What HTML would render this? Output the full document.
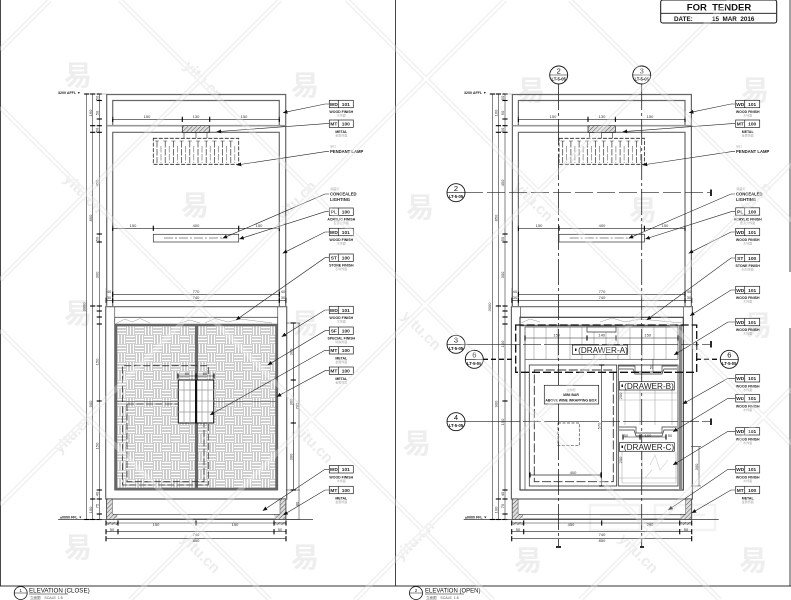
<!DOCTYPE html>
<html><head><meta charset="utf-8"><style>
html,body{margin:0;padding:0;background:#fff;width:791px;height:600px;overflow:hidden}
svg{display:block;overflow:hidden}
text{font-family:"Liberation Sans","Noto Sans CJK SC",sans-serif;fill:#111}
.t{font-size:4.8px;font-weight:bold;text-anchor:middle;fill:#222}
.c{font-size:3.5px;font-weight:bold;text-anchor:middle;fill:#222}
.s{font-size:3px;text-anchor:middle;fill:#aaa}
.l{font-size:4.2px;font-weight:bold;fill:#222}
.lv{font-size:3.6px;font-weight:bold;fill:#222}
.d{font-size:4px;text-anchor:middle;fill:#333}
.wm{font-size:28px;font-weight:bold;fill:#eee;text-anchor:middle}
.wt{font-size:15px;font-weight:bold;fill:#ececec;text-anchor:middle}
.dr{font-size:8.2px;text-anchor:middle;fill:#222}
</style></head><body>
<svg width="791" height="600" viewBox="0 0 791 600" xmlns="http://www.w3.org/2000/svg">
<defs>
<path id="wl" fill="none" d="M0 50L50 0M0 280L280 0M0 505L505 0M130 600L730 0M355 600L791 164M580 600L791 389M0 330L270 600M0 107L493 600M120 0L720 600M347 0L791 444M570 0L791 221"/>
<pattern id="weave" width="18" height="18" patternUnits="userSpaceOnUse" x="117" y="326">
<rect width="18" height="18" fill="#b2b2b2"/>
<path d="M0 1.5H9M0 4.500H9M0 7.500H9M9 10.500H18M9 13.500H18M9 16.500H18M10.500 0V9M13.500 0V9M16.500 0V9M1.500 9V18M4.500 9V18M7.500 9V18" stroke="#fff" stroke-width="1.700"/>
</pattern>
<pattern id="hat" width="3" height="3" patternUnits="userSpaceOnUse" patternTransform="rotate(45)">
<rect width="3" height="3" fill="#ddd"/><path d="M0 0V3" stroke="#555" stroke-width="1"/>
</pattern>
<pattern id="vl" width="12" height="10" patternUnits="userSpaceOnUse"><path d="M6 0V10" stroke="#aaa" stroke-width=".7"/></pattern>
<marker id="a" markerUnits="userSpaceOnUse" markerWidth="6" markerHeight="6" refX="4.500" refY="3" orient="auto"><path d="M0 1L4.500 3L0 5Z" fill="#111"/></marker>
<marker id="k" markerUnits="userSpaceOnUse" markerWidth="6" markerHeight="6" refX="3" refY="3" orient="auto"><path d="M3 .4V5.600" stroke="#000" stroke-width="1.100"/></marker>

<g id="tb"><rect x="0" y="-3.700" width="24" height="7.400" fill="#fff" stroke="#222" stroke-width=".7"/><path d="M9-3.700V3.700" stroke="#222" stroke-width=".7"/></g>

<g id="shell" fill="none">
<g stroke="#666" stroke-width="1.200">
<path d="M106.700 306V94.500H285.700V306"/>
<path d="M112.700 125V100.500H279.300V125"/>
<path d="M107 125.700H182M210 125.700H285.700" stroke="#999" stroke-width="1.600"/>
<path d="M112.700 306V132.300H279.300V306"/>
<path d="M105.700 306.700H286.700V499H105.700Z"/>
<path d="M106.500 499V519H286V499" stroke-width=".9"/>
<path d="M114.700 306.700V317M277.700 306.700V317" stroke-width=".8"/>
</g>
<rect x="182.300" y="125.700" width="27.400" height="6.600" fill="url(#hat)" stroke="#222" stroke-width=".7"/>
<rect x="153.300" y="138.300" width="85.400" height="26" stroke="#222" stroke-width=".8" stroke-dasharray="4 1.500"/>
<path d="M157 141V163M165.200 141V163M173.400 141V163M181.600 141V163M189.800 141V163M198 141V163M206.200 141V163M214.400 141V163M222.600 141V163M230.800 141V163" stroke="#333" stroke-width=".7" stroke-dasharray="6.500 1.500"/>
<path d="M161 146V163M169.200 146V163M177.400 146V163M185.600 146V163M193.800 146V163M202 146V163M210.200 146V163M218.400 146V163M226.600 146V163M234.800 146V163" stroke="#666" stroke-width=".6" stroke-dasharray="6.500 1.500"/>
<path d="M155 141H236" stroke="#333" stroke-width=".6" stroke-dasharray="4 4.200"/>
<path d="M184 132V138M196 132V138M207 132V138" stroke="#333" stroke-width=".6"/>
<rect x="153.300" y="234.300" width="85.400" height="7.700" fill="#fff" stroke="#333" stroke-width=".7"/>
<path d="M164 238H224" stroke="#222" stroke-width=".6" stroke-dasharray="9 2 2 2"/>
<!-- base -->
<rect x="106.700" y="499" width="5.700" height="20" fill="url(#hat)" stroke="#444" stroke-width=".5"/>
<rect x="280" y="499" width="5.700" height="20" fill="url(#hat)" stroke="#444" stroke-width=".5"/>
<rect x="107.700" y="514.300" width="9.600" height="5" fill="url(#hat)"/>
<rect x="274.500" y="514.300" width="10" height="5" fill="url(#hat)"/>
<rect x="106.500" y="522" width="11" height="3" fill="url(#hat)"/>
<rect x="274.500" y="522" width="11" height="3" fill="url(#hat)"/>
<path d="M113 514.300H280" stroke="#333" stroke-width=".7"/>
<path d="M58 519.500H313" stroke="#333" stroke-width=".8"/>
<!-- dims -->
<g stroke="#222" stroke-width=".55" marker-start="url(#k)" marker-mid="url(#k)" marker-end="url(#k)">
<polyline points="112.700,119.300 182.300,119.300 209.700,119.300 279.300,119.300"/>
<polyline points="112.700,228.300 153.300,228.300 238.700,228.300 279.300,228.300"/>
<polyline points="112.700,294.300 279.300,294.300"/>
<polyline points="106,300.300 112.700,300.300 279.300,300.300 286,300.300"/>
<polyline points="106,523 118,523 196,523 274,523 286,523"/>
<polyline points="106,531.700 118,531.700 274,531.700 286,531.700"/>
<polyline points="106,538.700 286,538.700"/>
<polyline points="99.300,94 99.300,100.500 99.300,119 99.300,125.700 99.300,132.300 99.300,234 99.300,242 99.300,306 99.300,311 99.300,317 99.300,324 99.300,401 99.300,490 99.300,499 99.300,514 99.300,519.500"/>
<polyline points="92.700,94 92.700,125.700 92.700,132.300 92.700,306 92.700,499 92.700,519.500"/>
<polyline points="86.700,94 86.700,519.500"/>
</g>
<path d="M112.700 119V100M279.300 119V100M112.700 228V133M279.300 228V133M99 94H107M99 519.500H107M106 288V306M286 288V306" stroke="#777" stroke-width=".4"/>
</g>
</defs>

<rect width="791" height="600" fill="#fff"/>

<!-- watermark -->
<use href="#wl" stroke="#e9e9e9" stroke-width="5"/>
<use href="#wl" stroke="#fff" stroke-width="2.400"/>
<g>
<text class="wm" x="78" y="85">易</text><text class="wm" x="305" y="95">易</text><text class="wm" x="195" y="215">易</text>
<text class="wm" x="420" y="217">易</text><text class="wm" x="531" y="100">易</text><text class="wm" x="643" y="220">易</text><text class="wm" x="755" y="100">易</text>
<text class="wm" x="78" y="323">易</text><text class="wm" x="305" y="333">易</text><text class="wm" x="758" y="335">易</text>
<text class="wm" x="417" y="453">易</text>
<text class="wm" x="78" y="557">易</text><text class="wm" x="305" y="567">易</text><text class="wm" x="528" y="570">易</text><text class="wm" x="753" y="570">易</text>
<text class="wt" transform="translate(200,84) rotate(45)">yitu.cn</text>
<text class="wt" transform="translate(80,197) rotate(45)">yitu.cn</text>
<text class="wt" transform="translate(300,204) rotate(-45)">yitu.cn</text>
<text class="wt" transform="translate(77,437) rotate(-45)">yitu.cn</text>
<text class="wt" transform="translate(310,447) rotate(45)">yitu.cn</text>
<text class="wt" transform="translate(197,557) rotate(45)">yitu.cn</text>
<text class="wt" transform="translate(418,334) rotate(45)">yitu.cn</text>
<text class="wt" transform="translate(418,544) rotate(-45)">yitu.cn</text>
<text class="wt" transform="translate(635,557) rotate(45)">yitu.cn</text>
<text class="wt" transform="translate(530,205) rotate(45)">yitu.cn</text>
<text class="wt" transform="translate(755,205) rotate(-45)">yitu.cn</text>
</g>
<path d="M590 505H640V530H590ZM655 505H715V530H655ZM600 515H630M665 515H705" fill="none" stroke="#f3f3f3" stroke-width="2.500"/>

<!-- sheet frame -->
<path d="M395.500 0V586M.500 0V586M0 586H791M790 0V272M790 328V586" stroke="#333" stroke-width=".9" fill="none"/>
<rect x="660.700" y="0" width="116" height="23" rx="2" fill="#fff" stroke="#111" stroke-width="1"/>
<path d="M661 13.300H776" stroke="#111" stroke-width=".8"/>
<text x="719" y="10.500" style="font-size:9.500px;font-weight:bold;text-anchor:middle" xml:space="preserve">FOR  TENDER</text>
<text x="674" y="21" style="font-size:6.300px;font-weight:bold">DATE:</text>
<text x="712" y="21" style="font-size:6.300px;font-weight:bold" xml:space="preserve">15  MAR  2016</text>

<!-- LEFT PANEL -->
<use href="#shell"/>
<g fill="none">
<rect x="114.700" y="317.300" width="163" height="172.700" stroke="#444" stroke-width=".8"/>
<path d="M116 323.500L125 319L132 322L140 318.500L150 323M180 323L190 320L200 323M205 323L215 318.500L228 322L240 319L272 323" stroke="#999" stroke-width=".5"/>
<rect x="116" y="325" width="160.500" height="164" fill="url(#weave)" stroke="#666" stroke-width="2.500"/>
<path d="M196.500 325V489" stroke="#666" stroke-width="3"/>
<path d="M117 401.300H178M214 401.300H276" stroke="#444" stroke-width=".7"/>
<path d="M122.500 402V365.700H208.300V376M208.300 424V485H122.500V404M127 404H178M127 404V481.700H204V424" stroke="#333" stroke-width=".8" stroke-dasharray="7 2.500"/>
<rect x="178.300" y="380" width="35.400" height="43" fill="#fff" stroke="#111" stroke-width="1"/>
<path d="M178 390H195M197 390H214M178 401H195M197 401H214M178 412H195M197 412H214M184 380V423M190 380V423M202 380V423M208 380V423" stroke="#999" stroke-width=".7"/>
<rect x="195" y="380" width="2.200" height="43" fill="#111"/>
<path d="M293.300 323V490M299 323V519.500M286 323H300M286 490H300M286 519.500H300" stroke="#333" stroke-width=".55"/>
<g stroke="#222" stroke-width=".55" marker-start="url(#k)" marker-mid="url(#k)" marker-end="url(#k)">
<polyline points="293.300,323 293.300,380 293.300,423 293.300,490"/>
<polyline points="178,376 196,376 214,376"/>
</g>
</g>
<text class="lv" x="58" y="94">3200 AFFL ▼</text>
<text class="lv" x="60" y="518.500">±0000 FFL ▼</text>
<g>
<text class="d" x="147" y="118">150</text><text class="d" x="196" y="118">130</text><text class="d" x="244" y="118">150</text>
<text class="d" x="133" y="227">150</text><text class="d" x="196" y="227">400</text><text class="d" x="259" y="227">150</text>
<text class="d" x="196" y="293">770</text><text class="d" x="196" y="299">740</text>
<text class="d" x="109" y="293">40</text><text class="d" x="283" y="293">40</text><text class="d" x="109" y="299">30</text><text class="d" x="283" y="299">30</text>
<text class="d" x="187" y="375">80</text><text class="d" x="205" y="375">80</text>
<text class="d" x="156" y="526">150</text><text class="d" x="235" y="526">150</text><text class="d" x="112" y="531">50</text><text class="d" x="280" y="531">50</text>
<text class="d" x="196" y="536">740</text><text class="d" x="196" y="542">850</text>
<text class="d" transform="translate(98.500,98) rotate(-90)">50</text><text class="d" transform="translate(98.500,113) rotate(-90)">50</text><text class="d" transform="translate(98.500,130) rotate(-90)">50</text>
<text class="d" transform="translate(98.500,183) rotate(-90)">450</text><text class="d" transform="translate(98.500,239) rotate(-90)">50</text><text class="d" transform="translate(98.500,275) rotate(-90)">300</text>
<text class="d" transform="translate(92,113) rotate(-90)">160</text><text class="d" transform="translate(92,218) rotate(-90)">850</text>
<text class="d" transform="translate(92,404) rotate(-90)">900</text><text class="d" transform="translate(92,510) rotate(-90)">100</text>
<text class="d" transform="translate(85.500,307) rotate(-90)">3000</text>
<text class="d" transform="translate(98.500,362) rotate(-90)">150</text><text class="d" transform="translate(98.500,446) rotate(-90)">150</text><text class="d" transform="translate(98.500,494) rotate(-90)">40</text><text class="d" transform="translate(98.500,506) rotate(-90)">75</text>
<text class="d" transform="translate(292.500,352) rotate(-90)">300</text><text class="d" transform="translate(292.500,402) rotate(-90)">300</text><text class="d" transform="translate(292.500,457) rotate(-90)">300</text><text class="d" transform="translate(298.300,406) rotate(-90)">785</text><text class="d" transform="translate(298.300,504) rotate(-90)">80</text>
</g>
<g fill="none" stroke="#222" stroke-width=".6" marker-end="url(#a)">
<polyline points="329,104 325,104 283,112.700"/>
<polyline points="329,123.700 325,123.700 216.700,131.700"/>
<polyline points="329,151.700 325,151.700 236.700,165"/>
<polyline points="329,194 325,194 222.700,238.300"/>
<polyline points="329,211.700 325,211.700 239.300,239"/>
<polyline points="329,232 325,232 282.700,253.300"/>
<polyline points="329,257.700 325,257.700 236,320"/>
<polyline points="329,310 325,310 281.700,336.700"/>
<polyline points="329,330.700 325,330.700 267.700,365"/>
<polyline points="329,350.300 325,350.300 210,415"/>
<polyline points="329,370.700 325,370.700 276.700,396.700"/>
<polyline points="329,469.300 325,469.300 262.700,510.700"/>
<polyline points="329,490 325,490 283.300,515"/>
</g>
<g transform="translate(329.300,104)"><use href="#tb"/><text class="t" x="4.500" y="1.800">WD</text><text class="t" x="16.500" y="1.800">101</text><text class="c" x="12" y="9">WOOD FINISH</text><text class="s" x="12" y="12.500">木饰面</text></g>
<g transform="translate(329.300,123.700)"><use href="#tb"/><text class="t" x="4.500" y="1.800">MT</text><text class="t" x="16.500" y="1.800">100</text><text class="c" x="12" y="9.300">METAL</text><text class="s" x="12" y="12.800">金属饰面</text></g>
<text class="s" x="333" y="147.500">吊灯</text><text class="l" x="330" y="153">PENDANT LAMP</text>
<text class="s" x="335" y="190">暗藏灯</text><text class="l" x="330" y="195.500">CONCEALED</text><text class="l" x="330" y="201">LIGHTING</text>
<g transform="translate(329.300,211.700)"><use href="#tb"/><text class="t" x="4.500" y="1.800">PL</text><text class="t" x="16.500" y="1.800">100</text><text class="c" x="12" y="9">ACRYLIC FINISH</text><text class="s" x="12" y="12.500">亚克力饰面</text></g>
<g transform="translate(329.300,232)"><use href="#tb"/><text class="t" x="4.500" y="1.800">WD</text><text class="t" x="16.500" y="1.800">101</text><text class="c" x="12" y="9">WOOD FINISH</text><text class="s" x="12" y="12.500">木饰面</text></g>
<g transform="translate(329.300,257.700)"><use href="#tb"/><text class="t" x="4.500" y="1.800">ST</text><text class="t" x="16.500" y="1.800">100</text><text class="c" x="12" y="9">STONE FINISH</text><text class="s" x="12" y="12.500">石材饰面</text></g>
<g transform="translate(329.300,310)"><use href="#tb"/><text class="t" x="4.500" y="1.800">WD</text><text class="t" x="16.500" y="1.800">101</text><text class="c" x="12" y="9">WOOD FINISH</text><text class="s" x="12" y="12.500">木饰面</text></g>
<g transform="translate(329.300,330.700)"><use href="#tb"/><text class="t" x="4.500" y="1.800">SF</text><text class="t" x="16.500" y="1.800">100</text><text class="c" x="12" y="9">SPECIAL FINISH</text><text class="s" x="12" y="12.500">特殊饰面</text></g>
<g transform="translate(329.300,350.300)"><use href="#tb"/><text class="t" x="4.500" y="1.800">MT</text><text class="t" x="16.500" y="1.800">100</text><text class="c" x="12" y="9.300">METAL</text><text class="s" x="12" y="12.800">金属饰面</text></g>
<g transform="translate(329.300,370.700)"><use href="#tb"/><text class="t" x="4.500" y="1.800">MT</text><text class="t" x="16.500" y="1.800">100</text><text class="c" x="12" y="9.300">METAL</text><text class="s" x="12" y="12.800">金属饰面</text></g>
<g transform="translate(329.300,469.300)"><use href="#tb"/><text class="t" x="4.500" y="1.800">WD</text><text class="t" x="16.500" y="1.800">101</text><text class="c" x="12" y="9">WOOD FINISH</text><text class="s" x="12" y="12.500">木饰面</text></g>
<g transform="translate(329.300,490)"><use href="#tb"/><text class="t" x="4.500" y="1.800">MT</text><text class="t" x="16.500" y="1.800">100</text><text class="c" x="12" y="9.300">METAL</text><text class="s" x="12" y="12.800">金属饰面</text></g>

<!-- RIGHT PANEL -->
<g transform="translate(405.700,0)"><use href="#shell"/></g>
<g fill="none">
<rect x="520" y="317.300" width="163.300" height="172.700" stroke="#333" stroke-width="1.100"/>
<path d="M521 323L530 319L540 322M600 322L612 318L625 322L640 319L682 323" stroke="#999" stroke-width=".5"/>
<path d="M520 325.500H683" stroke="#666" stroke-width="1.600"/>
<path d="M680.500 326V490" stroke="#888" stroke-width="3"/>
<rect x="525" y="327" width="153" height="32.300" fill="url(#vl)" stroke="#444" stroke-width=".7"/>
<path d="M525 359.300V490" stroke="#666" stroke-width=".9"/>
<rect x="529.300" y="365" width="87.400" height="121" stroke="#333" stroke-width=".8"/>
<rect x="534.300" y="370" width="79" height="111.700" stroke="#333" stroke-width=".9" stroke-dasharray="9 2.500"/>
<rect x="558" y="423" width="21.300" height="22.700" stroke="#444" stroke-width=".7" stroke-dasharray="3 1.500"/>
<path d="M601.700 365V486M530 475H601" stroke="#333" stroke-width=".6"/>
<rect x="618.300" y="365" width="59.700" height="121" stroke="#333" stroke-width=".8"/>
<path d="M625 390V425M640 390V425M655 390V425M672 390V425M619 393H677M619 400H677" stroke="#aaa" stroke-width=".6"/>
<path d="M619 366H635V372H662V366H677M619 369H633L635 374H662L664 369H677" stroke="#333" stroke-width=".7"/>
<path d="M619 427H636V433H662V427H677M619 430H634L636 436H662L664 430H677" stroke="#333" stroke-width=".7"/>
<path d="M622 452V483H676V452M642 452V483M619 478H677" stroke="#aaa" stroke-width=".6"/>
<path d="M650 465L655 455L660 470L668 460M645 478L652 470" stroke="#ccc" stroke-width=".6"/>
<path d="M587 327H616V332H587Z" fill="#fff" stroke="#333" stroke-width=".7"/>
<rect x="515.700" y="325" width="181" height="47.300" stroke="#111" stroke-width="1.300" stroke-dasharray="8 3"/>
<path d="M699 446.700V486M691 446.700H701M691 486H701M653 359.300V372" stroke="#333" stroke-width=".55"/>
<g stroke="#222" stroke-width=".55" marker-start="url(#k)" marker-mid="url(#k)" marker-end="url(#k)">
<polyline points="525,338 587,338 616,338 678,338"/>
<polyline points="601.700,365 601.700,486"/>
<polyline points="530,475 601,475"/>
<polyline points="623,437 640,437 666,437"/>
</g>
<!-- section lines -->
<path d="M558.500 84V546M641.700 84V546" stroke="#222" stroke-width=".8" stroke-dasharray="26 3 3 3"/>
<path d="M465 192.700H710" stroke="#222" stroke-width=".7" stroke-dasharray="18 4"/>
<path d="M465 344.300H710" stroke="#222" stroke-width=".7" stroke-dasharray="55 3 18 3"/>
<path d="M465 421.700H710" stroke="#222" stroke-width=".7" stroke-dasharray="55 3 18 3"/>
<path d="M483 359.300H516M696 359.300H720" stroke="#111" stroke-width="1.300" stroke-dasharray="5 3"/>
<path d="M711 189.500V196M711 341V347.500M711 418.500V425M556 547H561M640 547H644" stroke="#111" stroke-width="1.800"/>
</g>
<rect x="572.300" y="345" width="55.400" height="9.300" fill="#fff" stroke="#222" stroke-width=".7"/><rect x="575" y="348.500" width="1.500" height="2.500" fill="#111"/><text class="dr" x="603" y="352.800">(DRAWER-A)</text>
<rect x="619.300" y="381.700" width="55" height="8.300" fill="#fff" stroke="#222" stroke-width=".7"/><rect x="621.500" y="384.500" width="1.500" height="2.500" fill="#111"/><text class="dr" x="649" y="389">(DRAWER-B)</text>
<rect x="619.300" y="442.700" width="55" height="8.600" fill="#fff" stroke="#222" stroke-width=".7"/><rect x="621.500" y="445.500" width="1.500" height="2.500" fill="#111"/><text class="dr" x="649" y="450.200">(DRAWER-C)</text>
<rect x="544.300" y="385.300" width="54.400" height="18.700" fill="#fff" stroke="#222" stroke-width=".7"/>
<text class="s" x="571" y="391">迷你吧</text><text class="c" x="571" y="396">MINI BAR</text><text class="c" x="571" y="401.500">ABOVE WINE WRAPPING BOX</text>
<g fill="#fff" stroke="#111" stroke-width=".9">
<circle cx="558.700" cy="75" r="9"/><circle cx="641.700" cy="75" r="9"/><circle cx="456" cy="192.700" r="9"/><circle cx="456" cy="344.300" r="9"/><circle cx="474.300" cy="359.300" r="9"/><circle cx="456" cy="421.700" r="9"/><circle cx="729.300" cy="359.300" r="9"/>
</g>
<path d="M550 75H567.500M633 75H650.500M447 192.700H465M447 344.300H465M465.500 359.300H483M447 421.700H465M720.500 359.300H738" stroke="#111" stroke-width=".6"/>
<g>
<text x="558.700" y="73.500" text-anchor="middle" style="font-size:7.500px">2</text><text x="558.700" y="80.500" text-anchor="middle" style="font-size:4.200px;font-weight:bold">LT-5-05</text>
<text x="641.700" y="73.500" text-anchor="middle" style="font-size:7.500px">3</text><text x="641.700" y="80.500" text-anchor="middle" style="font-size:4.200px;font-weight:bold">LT-5-05</text>
<text x="456" y="191" text-anchor="middle" style="font-size:7.500px">2</text><text x="456" y="198.200" text-anchor="middle" style="font-size:4.200px;font-weight:bold">LT-5-05</text>
<text x="456" y="342.700" text-anchor="middle" style="font-size:7.500px">3</text><text x="456" y="349.800" text-anchor="middle" style="font-size:4.200px;font-weight:bold">LT-5-05</text>
<text x="474.300" y="357.700" text-anchor="middle" style="font-size:7.500px">6</text><text x="474.300" y="364.800" text-anchor="middle" style="font-size:4.200px;font-weight:bold">LT-5-05</text>
<text x="456" y="420" text-anchor="middle" style="font-size:7.500px">4</text><text x="456" y="427.200" text-anchor="middle" style="font-size:4.200px;font-weight:bold">LT-5-05</text>
<text x="729.300" y="357.700" text-anchor="middle" style="font-size:7.500px">6</text><text x="729.300" y="364.800" text-anchor="middle" style="font-size:4.200px;font-weight:bold">LT-5-05</text>
</g>
<text class="lv" x="464" y="94">3200 AFFL ▼</text>
<text class="lv" x="465" y="518.500">±0000 FFL ▼</text>
<g>
<text class="d" x="553" y="118">150</text><text class="d" x="602" y="118">130</text><text class="d" x="650" y="118">150</text>
<text class="d" x="539" y="227">150</text><text class="d" x="602" y="227">400</text><text class="d" x="665" y="227">150</text>
<text class="d" x="602" y="293">770</text><text class="d" x="602" y="299">740</text>
<text class="d" x="515" y="293">40</text><text class="d" x="689" y="293">40</text><text class="d" x="515" y="299">30</text><text class="d" x="689" y="299">30</text>
<text class="d" x="571" y="526">450</text><text class="d" x="650" y="526">290</text><text class="d" x="518" y="531">50</text><text class="d" x="686" y="531">50</text>
<text class="d" x="602" y="536">740</text><text class="d" x="602" y="542">850</text>
<text class="d" transform="translate(504.200,98) rotate(-90)">50</text><text class="d" transform="translate(504.200,113) rotate(-90)">50</text><text class="d" transform="translate(504.200,130) rotate(-90)">50</text>
<text class="d" transform="translate(504.200,183) rotate(-90)">450</text><text class="d" transform="translate(504.200,239) rotate(-90)">50</text><text class="d" transform="translate(504.200,275) rotate(-90)">300</text>
<text class="d" transform="translate(497.700,113) rotate(-90)">160</text><text class="d" transform="translate(497.700,218) rotate(-90)">850</text>
<text class="d" transform="translate(497.700,404) rotate(-90)">900</text><text class="d" transform="translate(497.700,510) rotate(-90)">100</text>
<text class="d" transform="translate(491.200,307) rotate(-90)">3000</text>
<text class="d" transform="translate(504.200,344) rotate(-90)">150</text><text class="d" transform="translate(504.200,422) rotate(-90)">150</text><text class="d" transform="translate(504.200,494) rotate(-90)">40</text><text class="d" transform="translate(504.200,506) rotate(-90)">75</text>
<text class="d" x="556.700" y="336.500">150</text><text class="d" x="601.700" y="336.500">140</text><text class="d" x="647.700" y="336.500">150</text>
<text class="d" x="573" y="474">400</text><text class="d" transform="translate(600.500,426) rotate(-90)">570</text>
<text class="d" transform="translate(622,396) rotate(-90)">200</text><text class="d" transform="translate(622,460) rotate(-90)">200</text>
<text class="d" x="626" y="437">50</text><text class="d" x="648" y="437">100</text><text class="d" x="670" y="437">50</text>
<text class="d" transform="translate(652.500,367) rotate(-90)">50</text>
<text class="d" transform="translate(698,467) rotate(-90)">300</text>
</g>
<g fill="none" stroke="#222" stroke-width=".6" marker-end="url(#a)">
<polyline points="735,104 731,104 689,112.700"/>
<polyline points="735,123.700 731,123.700 622.700,131.700"/>
<polyline points="735,151.700 731,151.700 642.700,165"/>
<polyline points="735,194 731,194 628.700,238.300"/>
<polyline points="735,211.700 731,211.700 645.300,239"/>
<polyline points="735,232 731,232 688.700,253.300"/>
<polyline points="735,258 731,258 646.700,320"/>
<polyline points="735,290 731,290 690,315.700"/>
<polyline points="735,322 728,322 674,355"/>
<polyline points="735,378.300 728,378.300 682.700,404"/>
<polyline points="735,398.300 728,398.300 673,431.700"/>
<polyline points="735,431.300 728,431.300 673,465"/>
<polyline points="735,469.300 728,469.300 668.300,510"/>
<polyline points="735,490 731,490 691.700,513"/>
</g>
<g transform="translate(735.700,104)"><use href="#tb"/><text class="t" x="4.500" y="1.800">WD</text><text class="t" x="16.500" y="1.800">101</text><text class="c" x="12" y="9">WOOD FINISH</text><text class="s" x="12" y="12.500">木饰面</text></g>
<g transform="translate(735.700,123.700)"><use href="#tb"/><text class="t" x="4.500" y="1.800">MT</text><text class="t" x="16.500" y="1.800">100</text><text class="c" x="12" y="9.300">METAL</text><text class="s" x="12" y="12.800">金属饰面</text></g>
<text class="s" x="739" y="147.500">吊灯</text><text class="l" x="736" y="153">PENDANT LAMP</text>
<text class="s" x="741" y="190">暗藏灯</text><text class="l" x="736" y="195.500">CONCEALED</text><text class="l" x="736" y="201">LIGHTING</text>
<g transform="translate(735.700,211.500)"><use href="#tb"/><text class="t" x="4.500" y="1.800">PL</text><text class="t" x="16.500" y="1.800">100</text><text class="c" x="12" y="9">ACRYLIC FINISH</text><text class="s" x="12" y="12.500">亚克力饰面</text></g>
<g transform="translate(735.700,232)"><use href="#tb"/><text class="t" x="4.500" y="1.800">WD</text><text class="t" x="16.500" y="1.800">101</text><text class="c" x="12" y="9">WOOD FINISH</text><text class="s" x="12" y="12.500">木饰面</text></g>
<g transform="translate(735.700,258)"><use href="#tb"/><text class="t" x="4.500" y="1.800">ST</text><text class="t" x="16.500" y="1.800">100</text><text class="c" x="12" y="9">STONE FINISH</text><text class="s" x="12" y="12.500">石材饰面</text></g>
<g transform="translate(735.700,290)"><use href="#tb"/><text class="t" x="4.500" y="1.800">WD</text><text class="t" x="16.500" y="1.800">101</text><text class="c" x="12" y="9">WOOD FINISH</text><text class="s" x="12" y="12.500">木饰面</text></g>
<g transform="translate(735.700,322)"><use href="#tb"/><text class="t" x="4.500" y="1.800">WD</text><text class="t" x="16.500" y="1.800">101</text><text class="c" x="12" y="9">WOOD FINISH</text><text class="s" x="12" y="12.500">木饰面</text></g>
<g transform="translate(735.700,378.300)"><use href="#tb"/><text class="t" x="4.500" y="1.800">WD</text><text class="t" x="16.500" y="1.800">101</text><text class="c" x="12" y="9">WOOD FINISH</text><text class="s" x="12" y="12.500">木饰面</text></g>
<g transform="translate(735.700,398.300)"><use href="#tb"/><text class="t" x="4.500" y="1.800">WD</text><text class="t" x="16.500" y="1.800">101</text><text class="c" x="12" y="9">WOOD FINISH</text><text class="s" x="12" y="12.500">木饰面</text></g>
<g transform="translate(735.700,431.300)"><use href="#tb"/><text class="t" x="4.500" y="1.800">WD</text><text class="t" x="16.500" y="1.800">101</text><text class="c" x="12" y="9">WOOD FINISH</text><text class="s" x="12" y="12.500">木饰面</text></g>
<g transform="translate(735.700,469.300)"><use href="#tb"/><text class="t" x="4.500" y="1.800">WD</text><text class="t" x="16.500" y="1.800">101</text><text class="c" x="12" y="9">WOOD FINISH</text><text class="s" x="12" y="12.500">木饰面</text></g>
<g transform="translate(735.700,490)"><use href="#tb"/><text class="t" x="4.500" y="1.800">MT</text><text class="t" x="16.500" y="1.800">100</text><text class="c" x="12" y="9.300">METAL</text><text class="s" x="12" y="12.800">金属饰面</text></g>

<!-- titles -->
<g fill="#fff" stroke="#111" stroke-width=".8"><circle cx="20.700" cy="593" r="6.500"/><circle cx="416" cy="593" r="6.500"/></g>
<path d="M14 593H27.500M409.500 593H422.500M29 594H68M425 594H464" stroke="#111" stroke-width=".6"/>
<text x="20.700" y="592" text-anchor="middle" style="font-size:4.500px">1</text>
<text x="416" y="592" text-anchor="middle" style="font-size:4.500px">2</text>
<text x="29" y="592.500" style="font-size:6.200px">ELEVATION (CLOSE)</text>
<text x="425" y="592.500" style="font-size:6px">ELEVATION (OPEN)</text>
<text x="30" y="599" style="font-size:3.500px;fill:#555" xml:space="preserve">立面图    SCALE  1:5</text>
<text x="426" y="599" style="font-size:3.500px;fill:#555" xml:space="preserve">立面图    SCALE  1:5</text>

<!-- watermark overlay washes faintly over drawing -->
<use href="#wl" stroke="#fff" stroke-width="5" stroke-opacity=".3"/>
</svg>
</body></html>
